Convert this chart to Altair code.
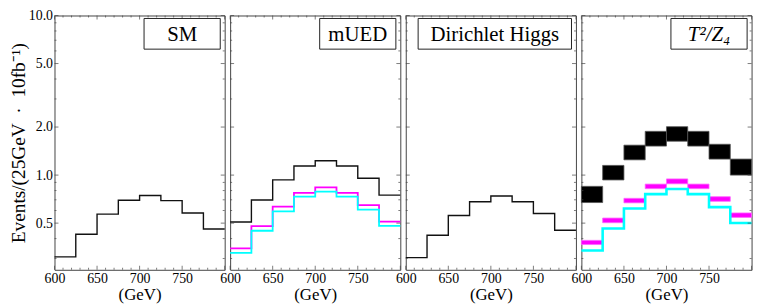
import altair as alt
import pandas as pd

# ---------------- data ----------------
bin_edges = [600, 625, 650, 675, 700, 725, 750, 775, 800]

sm_vals = [0.307, 0.426, 0.569, 0.695, 0.745, 0.692, 0.579, 0.459]
dh_vals = [0.304, 0.420, 0.558, 0.681, 0.739, 0.681, 0.575, 0.451]

mued_black = [0.508, 0.698, 0.933, 1.14, 1.23, 1.14, 0.955, 0.749]
mued_magenta = [0.347, 0.479, 0.634, 0.774, 0.838, 0.774, 0.648, 0.511]
mued_cyan = [0.325, 0.448, 0.593, 0.732, 0.788, 0.732, 0.607, 0.481]

t2_black_lo = [0.673, 0.932, 1.246, 1.52, 1.63, 1.52, 1.26, 1.00]
t2_black_hi = [0.850, 1.15, 1.54, 1.88, 2.01, 1.88, 1.56, 1.26]
t2_magenta_lo = [0.367, 0.503, 0.670, 0.822, 0.882, 0.822, 0.685, 0.543]
t2_magenta_hi = [0.390, 0.538, 0.715, 0.878, 0.946, 0.878, 0.732, 0.579]
t2_cyan = [0.337, 0.463, 0.618, 0.760, 0.819, 0.760, 0.630, 0.501]

panel_labels = ["SM", "mUED", "Dirichlet Higgs", "T²/Z₄"]

x_tick_labels = [600, 650, 700, 750]
y_tick_labels = [0.5, 1.0, 2.0, 5.0, 10.0]
x_major = [600, 650, 700, 750, 800]
x_minor = [610, 620, 630, 640, 660, 670, 680, 690, 710, 720, 730, 740, 760, 770, 780, 790]
y_minor = [0.3, 0.4, 0.6, 0.7, 0.8, 0.9, 3, 4, 6, 7, 8, 9]

y_title = "Events/(25GeV\u2002·\u200210fb⁻¹)"
x_title = "(GeV)"

# ---------------- style ----------------
W, H = 172, 257
FONT = "Liberation Serif"
FRAME = "#444"
xscale = alt.Scale(domain=[600, 800], nice=False, zero=False)
yscale = alt.Scale(type="log", domain=[0.255, 10], nice=False)


def x_axis():
    return alt.Axis(values=x_tick_labels, format="d", title=x_title, ticks=False,
                    domain=False, grid=False, labelFont=FONT, labelFontSize=14,
                    labelColor="#000", titleFont=FONT, titleFontSize=17,
                    titleFontWeight="normal", titleColor="#000", labelPadding=2,
                    titlePadding=1, labelFlush=False, labelOverlap=False)


def y_axis():
    return alt.Axis(values=y_tick_labels, format=".1f", title=y_title, ticks=False,
                    domain=False, grid=False, labelFont=FONT, labelFontSize=14,
                    labelColor="#000", titleFont=FONT, titleFontSize=19.5,
                    titleFontWeight="normal", titleColor="#000", labelPadding=2,
                    titlePadding=0, labelOverlap=False, labelFlush=False)


def step_df(vals):
    return pd.DataFrame({"x": bin_edges, "y": list(vals) + [vals[-1]]})


def band_df(lo, hi):
    return pd.DataFrame({"x": bin_edges[:-1], "x2": bin_edges[1:], "lo": lo, "hi": hi})


def make_panel(show_y, marks_fn, label, box_w, italic=False):
    xa = x_axis()
    ya = y_axis() if show_y else None

    def X(field):
        return alt.X(field, scale=xscale, axis=xa, title=x_title)

    def Y(field):
        return alt.Y(field, scale=yscale, axis=ya, title=y_title)

    def step_line(vals, color, width):
        return alt.Chart(step_df(vals)).mark_line(
            interpolate="step-after", color=color, strokeWidth=width
        ).encode(x=X("x:Q"), y=Y("y:Q"))

    def band(lo, hi, color, stroke):
        return alt.Chart(band_df(lo, hi)).mark_rect(
            color=color, stroke=stroke, strokeWidth=0.8
        ).encode(x=X("x:Q"), x2="x2:Q", y=Y("lo:Q"), y2="hi:Q")

    layers = marks_fn(step_line, band)

    dy_maj = pd.DataFrame({"v": y_tick_labels})
    dy_min = pd.DataFrame({"v": y_minor})
    dx_maj = pd.DataFrame({"v": x_major})
    dx_min = pd.DataFrame({"v": x_minor})
    for df, ln in ((dy_maj, 4), (dy_min, 2)):
        for xpos in (ln / 2, W - ln / 2):
            layers.append(alt.Chart(df).mark_tick(
                orient="horizontal", size=ln, thickness=1, color=FRAME
            ).encode(y=Y("v:Q"), x=alt.value(xpos)))
    for df, ln in ((dx_maj, 4), (dx_min, 2)):
        for ypos in (ln / 2, H - ln / 2):
            layers.append(alt.Chart(df).mark_tick(
                orient="vertical", size=ln, thickness=1, color=FRAME
            ).encode(x=X("v:Q"), y=alt.value(ypos)))

    x2 = W - 4.5
    x1 = x2 - box_w
    d = pd.DataFrame({"label": [label]})
    layers.append(alt.Chart(d).mark_rect(fill="white", stroke="#222", strokeWidth=1).encode(
        x=alt.value(x1), x2=alt.value(x2), y=alt.value(3), y2=alt.value(34)
    ))
    layers.append(alt.Chart(d).mark_text(
        font=FONT, fontSize=21, align="center", baseline="middle", color="#000",
        fontStyle="italic" if italic else "normal"
    ).encode(text="label:N", x=alt.value((x1 + x2) / 2), y=alt.value(19.5)))

    return alt.layer(*layers).properties(width=W, height=H)


p1 = make_panel(True, lambda L, B: [L(sm_vals, "#111", 1.4)], panel_labels[0], 77)
p2 = make_panel(False, lambda L, B: [
    L(mued_black, "#111", 1.4),
    L(mued_magenta, "#ff00ff", 1.8),
    L(mued_cyan, "#00ffff", 1.8),
], panel_labels[1], 77)
p3 = make_panel(False, lambda L, B: [L(dh_vals, "#111", 1.4)], panel_labels[2], 155)
p4 = make_panel(False, lambda L, B: [
    B(t2_black_lo, t2_black_hi, "#000", "#555"),
    B(t2_magenta_lo, t2_magenta_hi, "#ff00ff", "#ff66ff"),
    L(t2_cyan, "#00ffff", 2.6),
], panel_labels[3], 77, italic=True)

chart = alt.hconcat(p1, p2, p3, p4, spacing=5.5, bounds="flush").configure_view(
    stroke=FRAME, strokeWidth=1
).properties(
    padding={"left": 0, "top": -2, "right": 0, "bottom": 0},
    background="white",
)

chart.save("out.html", embed_options={"renderer": "svg", "actions": False})
